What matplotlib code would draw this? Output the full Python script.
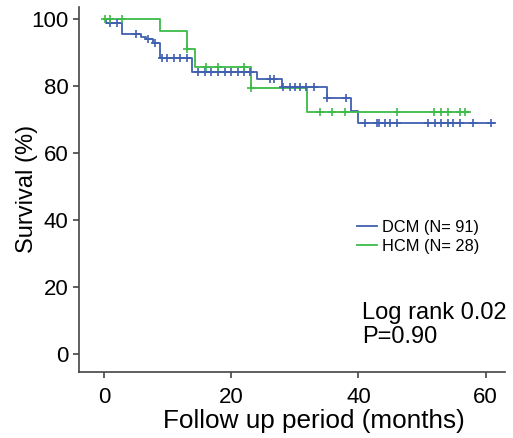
import numpy as np
import matplotlib.pyplot as plt

plt.rcParams['font.family'] = ['Liberation Sans', 'DejaVu Sans']

# Kaplan-Meier steps (time in months, survival in %)
dcm_t = [0, 0.4, 2.9, 5.9, 6.7, 7.7, 8.9, 13.8, 24.0, 28.0, 35.0, 38.9, 40.0, 61.4]
dcm_s = [100, 98.9, 95.6, 94.7, 93.9, 92.9, 88.5, 84.3, 82.1, 79.6, 76.3, 72.6, 68.8, 68.8]
dcm_cens = [1, 2, 5, 7, 8, 9.2, 9.9, 11, 12, 13, 14.8, 15.9, 16.9, 17.9, 19, 20, 21.1,
            22.1, 22.9, 26.1, 26.8, 28.1, 29.2, 30, 30.8, 31.8, 33, 35.1, 38.1,
            41, 42.9, 43.3, 44.1, 44.9, 46, 50.9, 52, 53, 54, 54.8, 55.9, 58, 60.9]

hcm_t = [0, 8.9, 13.0, 14.4, 23.1, 31.9, 57.5]
hcm_s = [100, 96.4, 91.2, 85.8, 79.5, 72.3, 72.3]
hcm_cens = [0.2, 1, 2.9, 13.1, 16, 18, 22, 23.2, 33.9, 35.8, 37.9, 46, 51.9, 53,
            54, 55.9, 56.7]

blue = '#3f5fb0'
green = '#3cbb48'


def surv_at(times, surv, c):
    idx = np.searchsorted(times, c, side='right') - 1
    return np.array(surv)[idx]


fig = plt.figure(figsize=(5.13, 4.38), dpi=100)
ax = fig.add_axes([0.154, 0.151, 0.830, 0.833])

ax.step(dcm_t, dcm_s, where='post', color=blue, lw=1.3, label='DCM (N= 91)')
ax.step(hcm_t, hcm_s, where='post', color=green, lw=1.3, label='HCM (N= 28)')
ax.plot(dcm_cens, surv_at(dcm_t, dcm_s, dcm_cens), '+', color=blue, ms=6, mew=1.2)
ax.plot(hcm_cens, surv_at(hcm_t, hcm_s, hcm_cens), '+', color=green, ms=6, mew=1.2)

ax.set_xlim(-3.9, 63)
ax.set_ylim(-5.4, 103.6)
ax.set_xticks([0, 20, 40, 60])
ax.set_yticks([0, 20, 40, 60, 80, 100])
ax.tick_params(labelsize=16, length=4, width=1.2, color='#444444')
ax.tick_params(axis='x', pad=7)
for side in ['top', 'right']:
    ax.spines[side].set_visible(False)
for side in ['left', 'bottom']:
    ax.spines[side].set_color('#444444')
    ax.spines[side].set_linewidth(1.2)

ax.set_xlabel('Follow up period (months)', fontsize=18.8)
ax.xaxis.set_label_coords(0.552, -0.103)
ax.set_ylabel('Survival (%)', fontsize=17)
ax.yaxis.set_label_coords(-0.096, 0.5)

ax.legend(loc='upper left', bbox_to_anchor=(357 / 513, 1 - 220 / 438),
          bbox_transform=fig.transFigure, frameon=False,
          fontsize=11.8, handlelength=1.25, handletextpad=0.3, labelspacing=0.25,
          borderaxespad=0, borderpad=0)
ax.text(362 / 513, 1 - 343 / 438, 'Log rank 0.02\nP=0.90', transform=fig.transFigure,
        fontsize=17, linespacing=1.1, va='baseline', ha='left')

fig.savefig('out.png', dpi=100)
